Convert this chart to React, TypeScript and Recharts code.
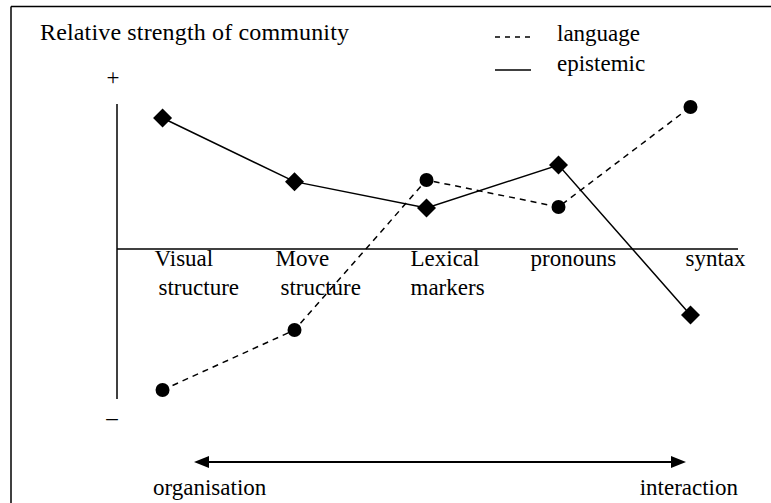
import React from "react";
import { LineChart, Line, XAxis, YAxis, ReferenceLine, LabelList } from "recharts";

// ---- data ----
const categories: string[][] = [
  ["Visual", "structure"],
  ["Move", "structure"],
  ["Lexical", "markers"],
  ["pronouns"],
  ["syntax"],
];
const languageValues = [-9.4, -5.4, 4.6, 2.8, 9.47];
const epistemicValues = [8.73, 4.49, 2.73, 5.6, -4.4];
const seriesNames = ["language", "epistemic"];
const axisEndLabels = ["+", "–"];
const continuumLabels = ["organisation", "interaction"];
const chartTitle = "Relative strength of community";

const data = categories.map((c, i) => ({
  idx: i,
  language: languageValues[i],
  epistemic: epistemicValues[i],
  axis: 0,
}));

// ---- layout / style ----
const W = 771;
const H = 503;
const MARGIN = { top: 99, right: 33, bottom: 104, left: 117 };
const FONT = '"Liberation Serif", "Times New Roman", Times, serif';
const FS = 23;
const labelDx = [-8, -19, -16, -28, -5];
const line2Dx = [4, 5, 0, 0, 0];

function Diamond(props: any) {
  const { cx, cy } = props;
  if (cx == null || cy == null) return null;
  const r = 9.5;
  return (
    <polygon
      points={`${cx},${cy - r} ${cx + r},${cy} ${cx},${cy + r} ${cx - r},${cy}`}
      fill="#000"
    />
  );
}

function Dot(props: any) {
  const { cx, cy } = props;
  if (cx == null || cy == null) return null;
  return <circle cx={cx} cy={cy} r={7} fill="#000" />;
}

function CategoryLabel(props: any) {
  const { x, y, index } = props;
  const i = index as number;
  const lines = categories[i];
  if (!lines) return null;
  const bx = x + labelDx[i];
  return (
    <text x={bx} y={y + 17} fontFamily={FONT} fontSize={FS} fill="#000">
      {lines.map((l, j) => (
        <tspan key={j} x={bx + (j ? line2Dx[i] : 0)} dy={j ? 29 : 0}>
          {l}
        </tspan>
      ))}
    </text>
  );
}

export default function App() {
  return (
    <div style={{ position: "absolute", left: 0, top: 0, width: W, height: H, background: "#fff" }}>
      <LineChart width={W} height={H} data={data} margin={MARGIN}>
        <XAxis type="number" dataKey="idx" domain={[-0.345, 4.36]} hide />
        <YAxis type="number" domain={[-10, 10]} hide />
        <ReferenceLine y={0} stroke="#000" strokeWidth={1.5} />
        <ReferenceLine
          segment={[{ x: -0.345, y: -10 }, { x: -0.345, y: 9.67 }]}
          stroke="#000"
          strokeWidth={1.5}
          ifOverflow="visible"
        />
        <Line
          dataKey="axis"
          stroke="none"
          dot={false}
          activeDot={false}
          legendType="none"
          isAnimationActive={false}
        >
          <LabelList dataKey="idx" content={<CategoryLabel />} />
        </Line>
        <Line
          dataKey="language"
          name={seriesNames[0]}
          stroke="#000"
          strokeWidth={1.5}
          strokeDasharray="6 5"
          dot={(p: any) => <Dot key={`l${p.index}`} {...p} />}
          activeDot={false}
          isAnimationActive={false}
        />
        <Line
          dataKey="epistemic"
          name={seriesNames[1]}
          stroke="#000"
          strokeWidth={1.5}
          dot={(p: any) => <Diamond key={`e${p.index}`} {...p} />}
          activeDot={false}
          isAnimationActive={false}
        />
      </LineChart>
      <svg
        width={W}
        height={H}
        style={{ position: "absolute", left: 0, top: 0, pointerEvents: "none" }}
      >
        <line x1={11} y1={6.5} x2={W} y2={6.5} stroke="#000" strokeWidth={1.5} />
        <line x1={11} y1={6.5} x2={11} y2={H} stroke="#000" strokeWidth={1.5} />
        <text x={40} y={40} fontFamily={FONT} fontSize={24} textLength={309} fill="#000">{chartTitle}</text>
        <line x1={495} y1={37} x2={531} y2={37} stroke="#000" strokeWidth={1.5} strokeDasharray="5 5" />
        <text x={557} y={41} fontFamily={FONT} fontSize={FS} fill="#000">{seriesNames[0]}</text>
        <line x1={495} y1={70} x2={531} y2={70} stroke="#000" strokeWidth={1.5} />
        <text x={557} y={71} fontFamily={FONT} fontSize={FS} fill="#000">{seriesNames[1]}</text>
        <text x={113} y={85} textAnchor="middle" fontFamily={FONT} fontSize={FS} fill="#000">{axisEndLabels[0]}</text>
        <text x={112} y={425} textAnchor="middle" fontFamily={FONT} fontSize={FS} fill="#000">{axisEndLabels[1]}</text>
        <line x1={204} y1={462} x2={676} y2={462} stroke="#000" strokeWidth={2} />
        <polygon points="194,462 209,456 209,468" fill="#000" />
        <polygon points="686,462 671,456 671,468" fill="#000" />
        <text x={153} y={495} fontFamily={FONT} fontSize={FS} fill="#000">{continuumLabels[0]}</text>
        <text x={738} y={495} textAnchor="end" fontFamily={FONT} fontSize={FS} fill="#000">{continuumLabels[1]}</text>
      </svg>
    </div>
  );
}
